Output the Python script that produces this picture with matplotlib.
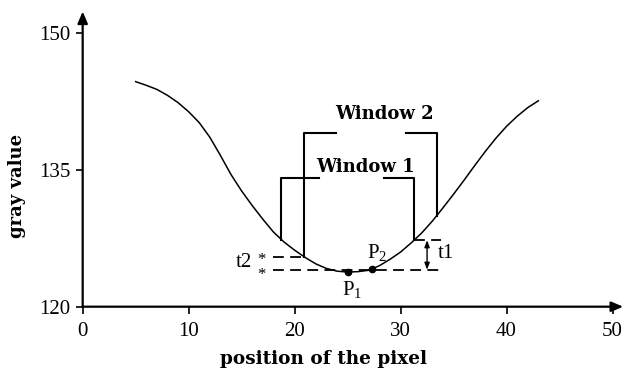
import matplotlib
matplotlib.use("Agg")
import matplotlib.pyplot as plt

plt.rcParams["mathtext.fontset"] = "custom"
plt.rcParams["mathtext.rm"] = "Liberation Serif"
plt.rcParams["mathtext.it"] = "Liberation Serif"

# gray value profile across the pixel row
pos = [5, 6, 7, 8, 9, 10, 11, 12, 13, 14, 15, 16, 17, 18, 19, 20, 21, 22, 23, 24,
       25, 26, 27, 28, 29, 30, 31, 32, 33, 34, 35, 36, 37, 38, 39, 40, 41, 42, 43]
gray = [144.7, 144.3, 143.85, 143.2, 142.4, 141.4, 140.2, 138.6, 136.6, 134.5,
        132.7, 131.1, 129.6, 128.2, 127.1, 126.2, 125.4, 124.7, 124.2, 123.9,
        123.8, 123.85, 124.0, 124.5, 125.2, 126.0, 127.0, 128.1, 129.4, 130.85,
        132.35, 133.9, 135.5, 137.05, 138.5, 139.8, 140.9, 141.85, 142.6]

# window brackets: left x, right x, top, left foot, right foot, inner gap
win1 = dict(xl=18.7, xr=31.3, top=134.1, yl=127.3, yr=127.3, gl=22.3, gr=28.4)
win2 = dict(xl=20.9, xr=33.4, top=139.1, yl=125.5, yr=129.95, gl=23.9, gr=30.5)

p1 = (25.0, 123.8)
p2 = (27.3, 124.1)
t2_level = 125.45
t1_base = 124.05
xticks = [0, 10, 20, 30, 40, 50]
yticks = [120, 135, 150]

fig = plt.figure(figsize=(6.23, 3.70), dpi=100)
ax = fig.add_axes([0.1327, 0.1711, 0.8675, 0.7978])
ax.set_xlim(0, 51.0)
ax.set_ylim(120, 152.4)

for s in ax.spines.values():
    s.set_visible(False)
arrow = dict(arrowstyle="-|>,head_length=0.7,head_width=0.3", lw=1.6, color="black",
             shrinkA=0, shrinkB=0)
ax.annotate("", xy=(0, 1), xytext=(0, 0), xycoords="axes fraction", arrowprops=arrow)
ax.annotate("", xy=(1, 0), xytext=(0, 0), xycoords="axes fraction", arrowprops=arrow)

serif = "Liberation Serif"
ax.set_xticks(xticks)
ax.set_yticks(yticks)
ax.tick_params(direction="out", length=5, width=1.2, labelsize=15)
ax.tick_params(axis="x", pad=6)
ax.tick_params(axis="y", pad=4)
for lab in ax.get_xticklabels() + ax.get_yticklabels():
    lab.set_fontfamily(serif)

ax.plot(pos, gray, color="black", lw=1.1)

for w in (win1, win2):
    ax.plot([w["xl"], w["xl"], w["gl"]], [w["yl"], w["top"], w["top"]], color="black", lw=1.5)
    ax.plot([w["gr"], w["xr"], w["xr"]], [w["top"], w["top"], w["yr"]], color="black", lw=1.5)

bold = dict(fontfamily="DejaVu Serif", fontweight="bold", fontsize=13, ha="center", va="center")
ax.text(28.5, 141.2, "Window 2", **bold)
ax.text(26.7, 135.3, "Window 1", **bold)

dash = dict(color="black", lw=1.3, dashes=(6, 3.5))
ax.plot([18.0, win2["xl"]], [t2_level, t2_level], **dash)
ax.plot([18.0, 33.9], [t1_base, t1_base], **dash)
ax.plot([win1["xr"], 33.8], [win1["yr"], win1["yr"]], **dash)

ax.annotate("", xy=(32.5, t1_base), xytext=(32.5, win1["yr"]),
            arrowprops=dict(arrowstyle="<|-|>,head_length=0.4,head_width=0.15", lw=1.0,
                            color="black", shrinkA=0, shrinkB=0))

ax.plot([p1[0], p2[0]], [p1[1], p2[1]], "o", color="black", ms=4.5)

label = dict(fontfamily=serif, fontsize=15, ha="center", va="center")
ax.text(25.45, 121.9, r"P$_{1}$", **label)
ax.text(27.8, 126.0, r"P$_{2}$", **label)
ax.text(34.3, 125.85, "t1", **label)
ax.text(15.2, 124.9, "t2", **label)
ax.text(16.9, 125.15, "*", fontfamily=serif, fontsize=12, ha="center", va="center")
ax.text(16.9, 123.5, "*", fontfamily=serif, fontsize=12, ha="center", va="center")

fig.text(323.7 / 623, 1 - 359 / 370, "position of the pixel", fontfamily="DejaVu Serif",
         fontweight="bold", fontsize=13.3, ha="center", va="center")
fig.text(17.5 / 623, 1 - 186 / 370, "gray value", fontfamily="DejaVu Serif",
         fontweight="bold", fontsize=13, ha="center", va="center", rotation=90)

fig.savefig("out.png", dpi=100)
